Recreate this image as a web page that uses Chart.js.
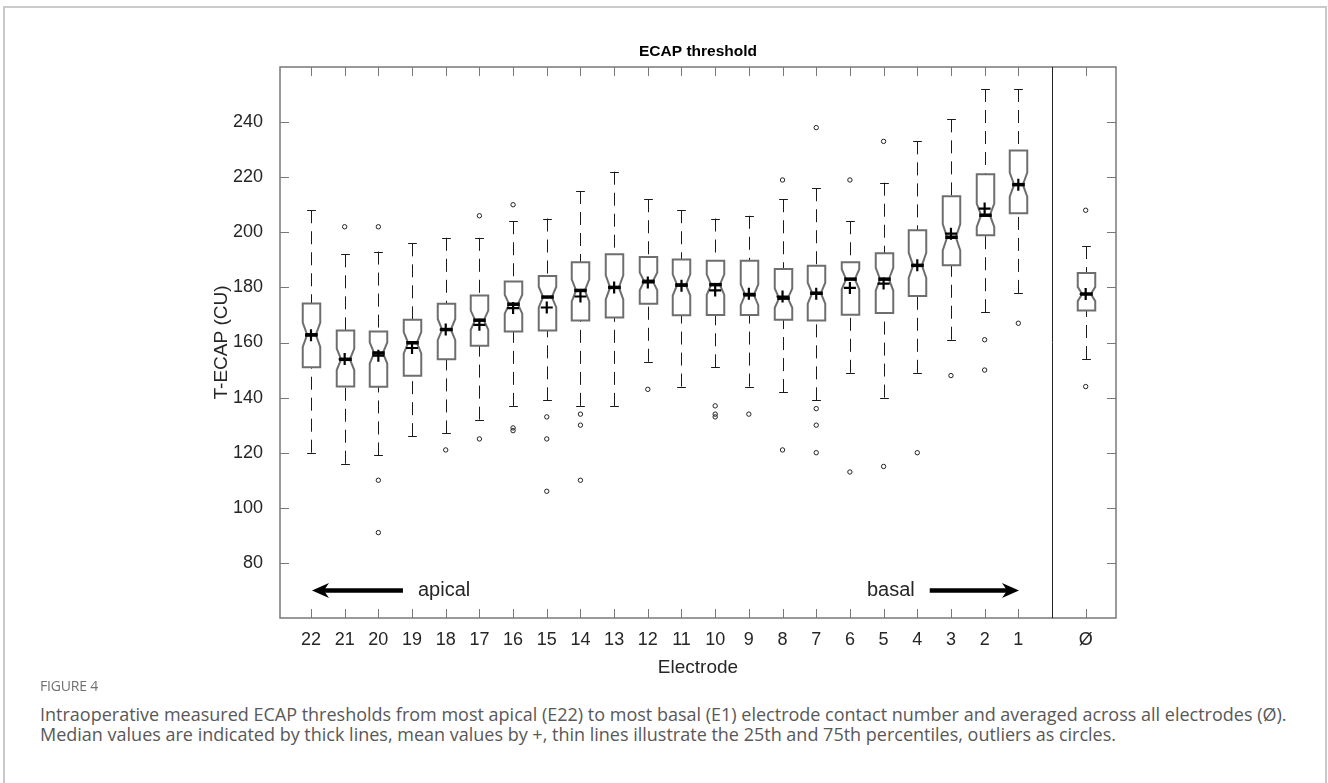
<!DOCTYPE html>
<html>
<head>
<meta charset="utf-8">
<title>ECAP threshold</title>
<script src="https://cdn.jsdelivr.net/npm/chart.js@4.4.0/dist/chart.umd.min.js"></script>
<style>
  html, body { margin: 0; padding: 0; background: #fff; }
  body { width: 1328px; height: 783px; position: relative; overflow: hidden; }
  .frame { position: absolute; left: 3px; top: 6px; width: 1324px; height: 840px; border: 2px solid #cacaca; box-sizing: border-box; }
  #chart-ecap { position: absolute; left: 0; top: 0; }
  .fig-label { position: absolute; left: 40px; top: 676px; font-family: 'Open Sans', sans-serif; font-size: 14px; color: #707070; letter-spacing: -0.2px; }
  .caption { position: absolute; left: 40px; top: 704px; font-family: 'Open Sans', sans-serif; font-size: 18px; line-height: 20px; color: #585858; white-space: nowrap; }
</style>
</head>
<body>
<div class="frame"></div>
<canvas id="chart-ecap" width="1328" height="680"></canvas>
<div class="fig-label">FIGURE 4</div>
<div class="caption">Intraoperative measured ECAP thresholds from most apical (E22) to most basal (E1) electrode contact number and averaged across all electrodes (Ø).<br>Median values are indicated by thick lines, mean values by +, thin lines illustrate the 25th and 75th percentiles, outliers as circles.</div>
<script>
// --- Data (electrode 22 = most apical ... 1 = most basal, Ø = all electrodes) ---
const ELECTRODES = ['22', '21', '20', '19', '18', '17', '16', '15', '14', '13', '12',
                    '11', '10', '9', '8', '7', '6', '5', '4', '3', '2', '1', 'Ø'];
const X_POS = [1, 2, 3, 4, 5, 6, 7, 8, 9, 10, 11, 12, 13, 14, 15, 16, 17, 18, 19, 20, 21, 22, 24];

const WHISKER_HIGH = [208, 192, 193, 196, 198, 198, 204, 205, 215, 222, 212, 208, 205, 206, 212, 216, 204, 218, 233, 241, 252, 252, 195];
const Q3           = [174.2, 164.4, 164.0, 168.3, 174.1, 177.1, 182.1, 184.1, 189.1, 192.0, 191.0, 190.1, 189.7, 189.7, 186.7, 187.9, 189.1, 192.4, 200.7, 213.1, 221.1, 229.7, 185.2];
const MEDIAN       = [162.8, 153.9, 156.2, 159.9, 164.7, 168.1, 173.9, 176.5, 178.9, 180.0, 182.2, 180.9, 181.0, 177.3, 176.1, 177.9, 183.0, 183.0, 188.0, 198.2, 206.2, 217.3, 177.6];
const MEAN         = [162.6, 154.0, 155.2, 158.0, 164.7, 166.4, 172.5, 172.7, 176.7, 180.0, 181.8, 180.6, 178.9, 177.7, 176.7, 177.7, 179.8, 181.4, 188.0, 199.5, 208.6, 217.3, 177.6];
const Q1           = [151.0, 144.0, 143.9, 147.9, 153.9, 158.8, 164.0, 164.4, 168.0, 169.1, 174.1, 169.9, 170.0, 170.0, 168.3, 168.0, 170.1, 170.7, 176.9, 188.0, 198.9, 206.9, 171.6];
const WHISKER_LOW  = [120, 116, 119, 126, 127, 132, 137, 139, 137, 137, 153, 144, 151, 144, 142, 139, 149, 140, 149, 161, 171, 178, 154];
const OUTLIERS = [
  [], [202], [202, 110, 91], [], [121], [206, 125], [210, 129, 128], [133, 125, 106],
  [134, 130, 110], [], [143], [], [137, 134, 133], [134], [219, 121], [238, 136, 130, 120],
  [219, 113], [233, 115], [120], [148], [161, 150], [167], [208, 144],
];
const Y_TICKS = [80, 100, 120, 140, 160, 180, 200, 220, 240];
const SAMPLE_SIZE = 68; // notch = 1.57 * IQR / sqrt(n)

// --- Annotations (data coordinates) ---
const DIVIDER_X = 23;
const ARROW_Y = 70;
const APICAL_ARROW = [3.73, 1.03];
const BASAL_ARROW = [19.37, 22.02];

// --- Styles ---
const AXIS_COLOR = '#787878';
const TEXT_COLOR = '#262626';
const BOX_COLOR = '#6e6e6e';
const FONT = "'Liberation Sans', Arial, sans-serif";
const BOX_WIDTH = 0.52;

// --- Notched boxes, whiskers and medians ---
const boxPlugin = {
  id: 'notchedBoxes',
  beforeDatasetsDraw(chart) {
    const { ctx, scales: { x, y } } = chart;
    const half = x.getPixelForValue(BOX_WIDTH / 2) - x.getPixelForValue(0);
    const capHalf = half / 2;
    const medHalf = half * 0.72;
    ctx.save();
    X_POS.forEach((pos, i) => {
      const cx = Math.round(x.getPixelForValue(pos)) + 0.5;
      const yHi = y.getPixelForValue(WHISKER_HIGH[i]);
      const yLo = y.getPixelForValue(WHISKER_LOW[i]);
      const yQ3 = y.getPixelForValue(Q3[i]);
      const yQ1 = y.getPixelForValue(Q1[i]);
      const notch = 1.57 * (Q3[i] - Q1[i]) / Math.sqrt(SAMPLE_SIZE);
      const yMed = y.getPixelForValue(MEDIAN[i]);
      const yNTop = y.getPixelForValue(MEDIAN[i] + notch);
      const yNBot = y.getPixelForValue(MEDIAN[i] - notch);

      // whiskers
      ctx.strokeStyle = '#1a1a1a';
      ctx.lineWidth = 1;
      ctx.setLineDash([13, 8]);
      ctx.beginPath();
      ctx.moveTo(cx, yHi); ctx.lineTo(cx, yQ3);
      ctx.moveTo(cx, yLo); ctx.lineTo(cx, yQ1);
      ctx.stroke();
      ctx.setLineDash([]);
      ctx.beginPath();
      ctx.moveTo(cx - capHalf, Math.round(yHi) + 0.5); ctx.lineTo(cx + capHalf, Math.round(yHi) + 0.5);
      ctx.moveTo(cx - capHalf, Math.round(yLo) + 0.5); ctx.lineTo(cx + capHalf, Math.round(yLo) + 0.5);
      ctx.stroke();

      // box with notch
      ctx.strokeStyle = BOX_COLOR;
      ctx.lineWidth = 2;
      ctx.beginPath();
      ctx.moveTo(cx - half, yQ3);
      ctx.lineTo(cx + half, yQ3);
      ctx.lineTo(cx + half, yNTop);
      ctx.lineTo(cx + half / 2, yMed);
      ctx.lineTo(cx + half, yNBot);
      ctx.lineTo(cx + half, yQ1);
      ctx.lineTo(cx - half, yQ1);
      ctx.lineTo(cx - half, yNBot);
      ctx.lineTo(cx - half / 2, yMed);
      ctx.lineTo(cx - half, yNTop);
      ctx.closePath();
      ctx.stroke();

      // median
      ctx.strokeStyle = '#000';
      ctx.lineWidth = 3.5;
      ctx.beginPath();
      ctx.moveTo(cx - medHalf, yMed);
      ctx.lineTo(cx + medHalf, yMed);
      ctx.stroke();
    });
    ctx.restore();
  },
};

// --- Frame, inward ticks, arrows and labels ---
function drawArrow(ctx, x0, x1, yy) {
  const dir = Math.sign(x1 - x0);
  const headLen = 17;
  const headHalf = 7.5;
  ctx.beginPath();
  ctx.lineWidth = 4.5;
  ctx.moveTo(x0, yy);
  ctx.lineTo(x1 - dir * headLen * 0.7, yy);
  ctx.stroke();
  ctx.beginPath();
  ctx.moveTo(x1, yy);
  ctx.lineTo(x1 - dir * headLen, yy - headHalf);
  ctx.lineTo(x1 - dir * headLen * 0.7, yy);
  ctx.lineTo(x1 - dir * headLen, yy + headHalf);
  ctx.closePath();
  ctx.fill();
}

const framePlugin = {
  id: 'matlabFrame',
  afterDraw(chart) {
    const { ctx, chartArea: a, scales: { x, y } } = chart;
    ctx.save();

    // ticks pointing inward
    ctx.strokeStyle = AXIS_COLOR;
    ctx.lineWidth = 1;
    ctx.beginPath();
    x.ticks.forEach((t) => {
      const px = Math.round(x.getPixelForValue(t.value)) + 0.5;
      ctx.moveTo(px, a.bottom); ctx.lineTo(px, a.bottom - 9);
      ctx.moveTo(px, a.top); ctx.lineTo(px, a.top + 9);
    });
    y.ticks.forEach((t) => {
      const py = Math.round(y.getPixelForValue(t.value)) + 0.5;
      ctx.moveTo(a.left, py); ctx.lineTo(a.left + 9, py);
      ctx.moveTo(a.right, py); ctx.lineTo(a.right - 9, py);
    });
    ctx.stroke();

    // axes box
    ctx.lineWidth = 1.5;
    ctx.strokeRect(a.left, a.top, a.right - a.left, a.bottom - a.top);

    // divider before the average box
    const dx = Math.round(x.getPixelForValue(DIVIDER_X)) + 0.5;
    ctx.strokeStyle = '#222';
    ctx.lineWidth = 1;
    ctx.beginPath();
    ctx.moveTo(dx, a.top); ctx.lineTo(dx, a.bottom);
    ctx.stroke();

    // apical / basal arrows
    const ay = y.getPixelForValue(ARROW_Y);
    ctx.strokeStyle = '#000';
    ctx.fillStyle = '#000';
    drawArrow(ctx, x.getPixelForValue(APICAL_ARROW[0]), x.getPixelForValue(APICAL_ARROW[1]), ay);
    drawArrow(ctx, x.getPixelForValue(BASAL_ARROW[0]), x.getPixelForValue(BASAL_ARROW[1]), ay);

    ctx.fillStyle = TEXT_COLOR;
    ctx.font = `20px ${FONT}`;
    ctx.textBaseline = 'middle';
    ctx.textAlign = 'left';
    ctx.fillText('apical', x.getPixelForValue(APICAL_ARROW[0]) + 15, ay);
    ctx.textAlign = 'right';
    ctx.fillText('basal', x.getPixelForValue(BASAL_ARROW[0]) - 15, ay);

    // title and axis titles
    const midX = (a.left + a.right) / 2;
    ctx.textAlign = 'center';
    ctx.font = `bold 15.5px ${FONT}`;
    ctx.fillStyle = '#000';
    ctx.fillText('ECAP threshold', midX, 52);
    ctx.fillStyle = TEXT_COLOR;
    ctx.font = `19px ${FONT}`;
    ctx.fillText('Electrode', midX, 668);
    ctx.translate(222, (a.top + a.bottom) / 2);
    ctx.rotate(-Math.PI / 2);
    ctx.fillText('T-ECAP (CU)', 0, 0);
    ctx.restore();
  },
};

// --- Chart ---
const meanPoints = X_POS.map((pos, i) => ({ x: pos, y: MEAN[i] }));
const outlierPoints = [];
OUTLIERS.forEach((vals, i) => vals.forEach((v) => outlierPoints.push({ x: X_POS[i], y: v })));

const chartEcap = new Chart(document.getElementById('chart-ecap'), {
  type: 'scatter',
  data: {
    datasets: [
      {
        label: 'Outliers',
        data: outlierPoints,
        pointStyle: 'circle',
        pointRadius: 2.2,
        pointBorderWidth: 1,
        pointBorderColor: '#222',
        pointBackgroundColor: 'rgba(0,0,0,0)',
      },
      {
        label: 'Mean',
        data: meanPoints,
        pointStyle: 'cross',
        pointRadius: 6,
        pointBorderWidth: 2.2,
        pointBorderColor: '#000',
      },
    ],
  },
  options: {
    responsive: false,
    animation: false,
    layout: { padding: { left: 0, top: 67, right: 212, bottom: 0 } },
    plugins: {
      legend: { display: false },
      tooltip: { enabled: false },
    },
    scales: {
      x: {
        type: 'linear',
        min: 0.08,
        max: 24.9,
        grid: { display: false },
        border: { display: false },
        afterBuildTicks: (scale) => { scale.ticks = X_POS.map((v) => ({ value: v })); },
        afterFit: (scale) => { scale.height = 62; },
        ticks: {
          autoSkip: false,
          maxRotation: 0,
          padding: 3,
          color: TEXT_COLOR,
          font: { family: FONT, size: 18 },
          callback: (value) => ELECTRODES[X_POS.indexOf(value)],
        },
      },
      y: {
        min: 60,
        max: 260,
        grid: { display: false },
        border: { display: false },
        afterBuildTicks: (scale) => { scale.ticks = Y_TICKS.map((v) => ({ value: v })); },
        afterFit: (scale) => { scale.width = 280; },
        ticks: {
          padding: 9,
          color: TEXT_COLOR,
          font: { family: FONT, size: 18 },
        },
      },
    },
  },
  plugins: [boxPlugin, framePlugin],
});
</script>
</body>
</html>
